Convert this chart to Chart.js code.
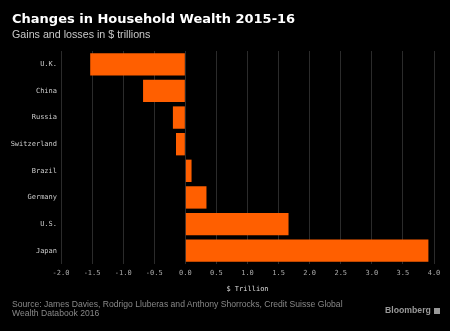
<!DOCTYPE html>
<html>
<head>
<meta charset="utf-8">
<script src="https://cdn.jsdelivr.net/npm/chart.js@4"></script>
<style>
  html, body { margin: 0; padding: 0; background: #000; }
  #wrap { position: relative; width: 450px; height: 331px; overflow: hidden; }
  #chart { position: absolute; left: 0; top: 0; }
  .title { position: absolute; left: 12px; top: 11px; color: #fff; font: bold 13px "DejaVu Sans"; white-space: nowrap; }
  .sub { position: absolute; left: 12px; top: 28px; color: #c8c8c8; font: 10.7px "Liberation Sans"; white-space: nowrap; }
  .source { position: absolute; left: 12px; top: 300px; color: #888; font: 8.6px/9px "Liberation Sans"; white-space: nowrap; }
  .brand { position: absolute; left: 385px; top: 305px; color: #999; font: bold 8.7px "Liberation Sans"; white-space: nowrap; }
  .brand span { display: inline-block; width: 6px; height: 6px; background: #999; margin-left: 3px; vertical-align: -1px; }
</style>
</head>
<body>
<div id="wrap">
  <canvas id="chart" width="450" height="331"></canvas>
  <div class="title">Changes in Household Wealth 2015-16</div>
  <div class="sub">Gains and losses in $ trillions</div>
  <div class="source">Source: James Davies, Rodrigo Lluberas and Anthony Shorrocks, Credit Suisse Global<br>Wealth Databook 2016</div>
  <div class="brand">Bloomberg<span></span></div>
</div>
<script>
// Change in household wealth, $ trillions
const countries = ['U.K.', 'China', 'Russia', 'Switzerland', 'Brazil', 'Germany', 'U.S.', 'Japan'];
const wealthChange = [-1.53, -0.68, -0.2, -0.15, 0.1, 0.34, 1.66, 3.91];
const xTicks = ['-2.0', '-1.5', '-1.0', '-0.5', '0.0', '0.5', '1.0', '1.5', '2.0', '2.5', '3.0', '3.5', '4.0'];

const tickFont = { family: 'DejaVu Sans Mono', size: 7 };

new Chart(document.getElementById('chart').getContext('2d'), {
    type: 'bar',
    data: {
        labels: countries,
        datasets: [{
            data: wealthChange,
            backgroundColor: '#ff5f00',
            borderWidth: 0,
            categoryPercentage: 0.84,
            barPercentage: 1.0
        }]
    },
    options: {
        indexAxis: 'y',
        responsive: false,
        animation: false,
        layout: { padding: { top: 51, right: 16, bottom: 36, left: 0 } },
        scales: {
            x: {
                min: -2,
                max: 4,
                ticks: {
                    stepSize: 0.5,
                    color: '#aaa',
                    font: tickFont,
                    padding: 5,
                    maxRotation: 0,
                    callback: (v, i) => xTicks[i]
                },
                grid: { color: '#2b2b2b', drawTicks: false },
                border: { display: false },
                title: {
                    display: true,
                    text: '$ Trillion',
                    color: '#ddd',
                    font: tickFont,
                    padding: { top: 0, bottom: 2 }
                },
                afterFit: s => { s.height = 31; }
            },
            y: {
                ticks: { color: '#ccc', font: tickFont, padding: 4 },
                grid: { display: false, drawTicks: false },
                border: { display: false },
                afterFit: s => { s.width = 61; }
            }
        },
        plugins: {
            legend: { display: false },
            tooltip: { enabled: false }
        }
    }
});
</script>
</body>
</html>
